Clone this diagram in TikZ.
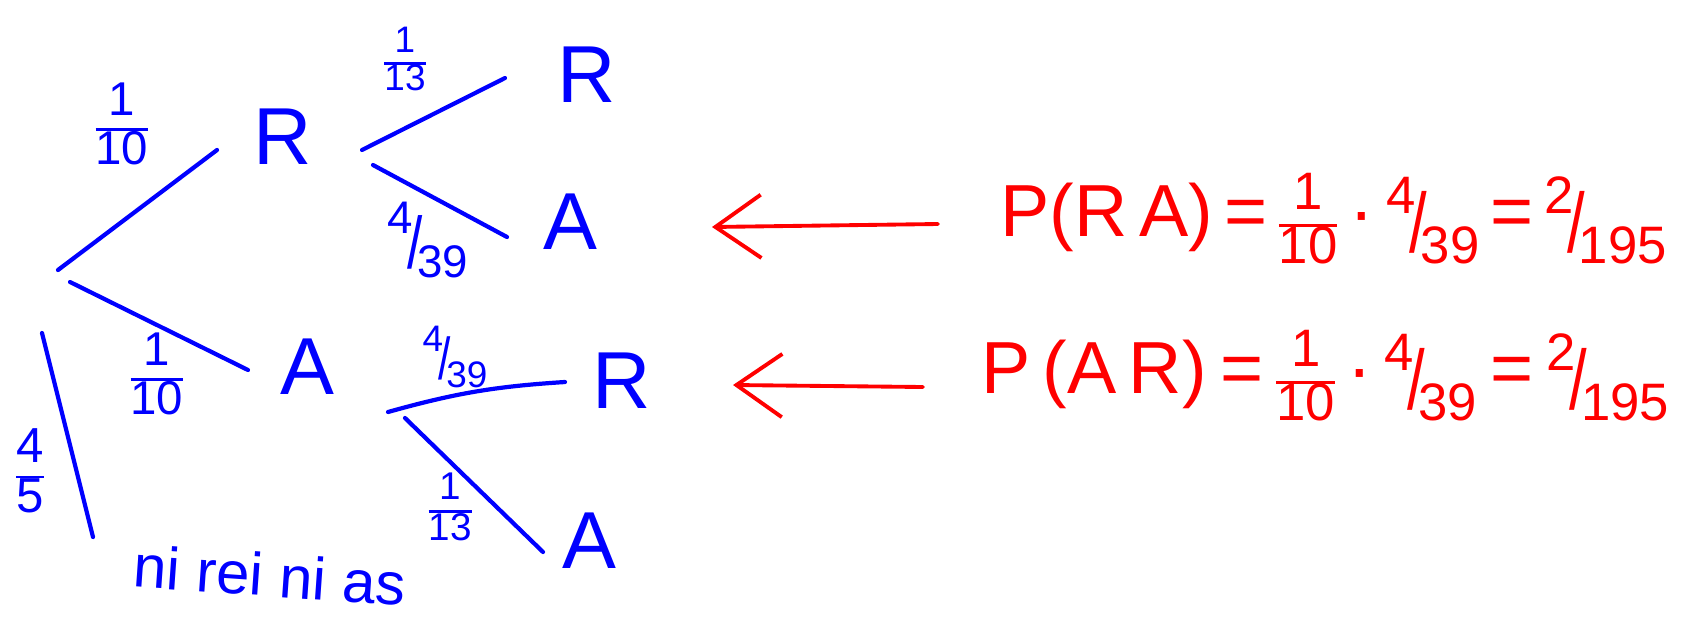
\documentclass[tikz,border=0pt]{standalone}
\usepackage{fontspec}
\setmainfont{Liberation Sans}
\usepackage{graphicx}
\usetikzlibrary{arrows.meta}
\newcommand{\stackfr}[2]{{\setlength{\arrayrulewidth}{1.6pt}\renewcommand{\arraystretch}{0.85}\begin{tabular}{@{}c@{}}#1\\\hline #2\end{tabular}}}
\newcommand{\slantfr}[2]{\raisebox{0.45em}{#1}\kern-0.12em\raisebox{-0.3em}{\scalebox{1.2}[1.6]{/}}\kern-0.12em\raisebox{-0.5em}{#2}}
\newcommand{\eqfr}{\fontsize{30}{32}\selectfont}
\begin{document}
\begin{tikzpicture}[x=0.02cm, y=-0.02cm,
  branch/.style={blue, line width=2.4pt, line cap=round},
  leaf/.style={blue, inner sep=0pt, font=\fontsize{46}{48}\selectfont},
  prob/.style={blue, inner sep=0pt, font=\fontsize{27}{29}\selectfont},
  eqn/.style={red, inner sep=0pt, anchor=west, font=\fontsize{42}{44}\selectfont},
  back/.style={-{Straight Barb[length=26pt,width=36pt]}, red, line width=2.2pt, line cap=round}]
\useasboundingbox (0,0) rectangle (1686,616);
\coordinate (o) at (58,270);
\node[leaf] (r1) at (283,137) {R};
\node[leaf] (a1) at (307,367) {A};
\node[leaf] (r2) at (587,75) {R};
\node[leaf] (a2) at (570,222) {A};
\node[leaf] (r3) at (622,381) {R};
\node[leaf] (a3) at (589,541) {A};
\node[blue, rotate=-4, inner sep=0pt, font=\fontsize{34}{36}\selectfont] (rest) at (270,575) {ni rei ni as};
\draw[branch] (o) -- ([shift={(-66,13)}]r1.center);
\draw[branch] ([shift={(12,12)}]o) -- ([shift={(-59,3)}]a1.center);
\draw[branch] ([shift={(-16,63)}]o) -- ([shift={(-177,-38)}]rest.center);
\draw[branch] ([shift={(79,13)}]r1.center) -- ([shift={(-82,3)}]r2.center);
\draw[branch] ([shift={(90,28)}]r1.center) -- ([shift={(-63,15)}]a2.center);
\draw[branch] ([shift={(81,45)}]a1.center) to[bend left=6] ([shift={(-57,1)}]r3.center);
\draw[branch] ([shift={(98,51)}]a1.center) -- ([shift={(-46,11)}]a3.center);
\node[prob] (p1) at (122,130) {\stackfr{1}{10}};
\node[prob] (p2) at (157,380) {\stackfr{1}{10}};
\node[prob, font=\fontsize{28}{30}\selectfont] (p3) at (30,477) {\stackfr{4}{5}};
\node[prob, font=\fontsize{21}{23}\selectfont] (p4) at (405,64) {\stackfr{1}{13}};
\node[prob, font=\fontsize{26}{28}\selectfont] (p5) at (428,240) {\slantfr{4}{39}};
\node[prob, font=\fontsize{21}{23}\selectfont] (p6) at (455,357) {\slantfr{4}{39}};
\node[prob, font=\fontsize{22}{24}\selectfont] (p7) at (450,512) {\stackfr{1}{13}};
\node[eqn] (e1) at (1000,226) {P(R\,A)\kern.15em=\kern.15em{\eqfr\stackfr{1}{10}}\,·\,{\eqfr\slantfr{4}{39}}\kern.15em=\kern.15em{\eqfr\slantfr{2}{195}}};
\node[eqn] (e2) at (981,383) {P\,(A\,R)\kern.18em=\kern.18em{\eqfr\stackfr{1}{10}}\,·\,{\eqfr\slantfr{4}{39}}\kern.18em=\kern.18em{\eqfr\slantfr{2}{195}}};
\draw[back] ([shift={(-62,-2)}]e1.west) -- ([shift={(142,5)}]a2.center);
\draw[back] ([shift={(-58,4)}]e2.west) -- ([shift={(111,4)}]r3.center);
\end{tikzpicture}
\end{document}
